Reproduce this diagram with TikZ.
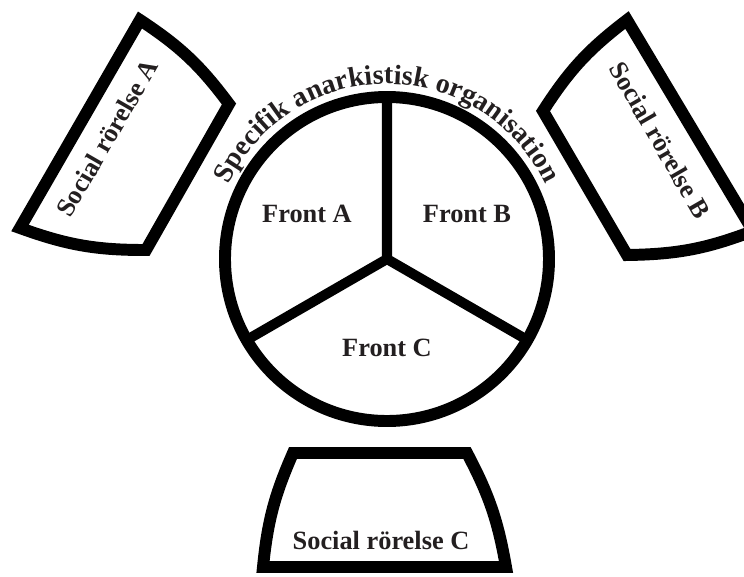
\documentclass[tikz,border=0pt]{standalone}
\usepackage{fontspec}
\setmainfont{Liberation Serif}
\usetikzlibrary{decorations.text}

\definecolor{inkblack}{HTML}{231F20}
\newcommand\boxfont{\fontsize{15}{18}\selectfont\bfseries}
\newcommand\ringfont{\fontsize{16}{19}\selectfont\bfseries}

\tikzset{
  outline/.style={line width=6.8pt, black},
  spoke/.style={line width=5.7pt, black},
  boxlabel/.style={text=inkblack, font=\boxfont, inner sep=0pt},
}

\begin{document}
\begin{tikzpicture}[x=0.02cm, y=0.02cm]
\useasboundingbox (-387,-317) rectangle (357,259);

% Organisation ring
\draw[outline] (0,0) circle (162);
\draw[spoke] (90:162) -- (0,0) -- (210:162);
\draw[spoke] (0,0) -- (330:162);

% Title along the ring
\path[decorate, decoration={text along path, text color=inkblack,
  text={|\ringfont|Specifik anarkistisk organisation}, text align=center}]
  (158:175) arc[start angle=158, end angle=22, radius=175];

% Fronts
\node[boxlabel] (fronta) at (-80,45) {Front A};
\node[boxlabel] (frontb) at (80,45) {Front B};
\node[boxlabel] (frontc) at (0,-89) {Front C};

% Social rörelse A (upper left)
\draw[outline] (-247,239) to[bend left=10] (-158,155) -- (-241,9)
  to[bend left=10] (-367,31) -- cycle;
\node[boxlabel, rotate=60] (rorelsea) at (-280,121) {Social rörelse A};

% Social rörelse B (upper right)
\draw[outline] (240,239) -- (366,28) to[bend left=10] (240,4)
  -- (156,148) to[bend left=10] cycle;
\node[boxlabel, rotate=-60] (rorelseb) at (273,119) {Social rörelse B};

% Social rörelse C (bottom)
\draw[outline] (-94,-194) -- (80,-194) to[bend left=9] (119,-308)
  -- (-124,-308) to[bend left=9] cycle;
\node[boxlabel] (rorelsec) at (-6,-281) {Social rörelse C};

\end{tikzpicture}
\end{document}
